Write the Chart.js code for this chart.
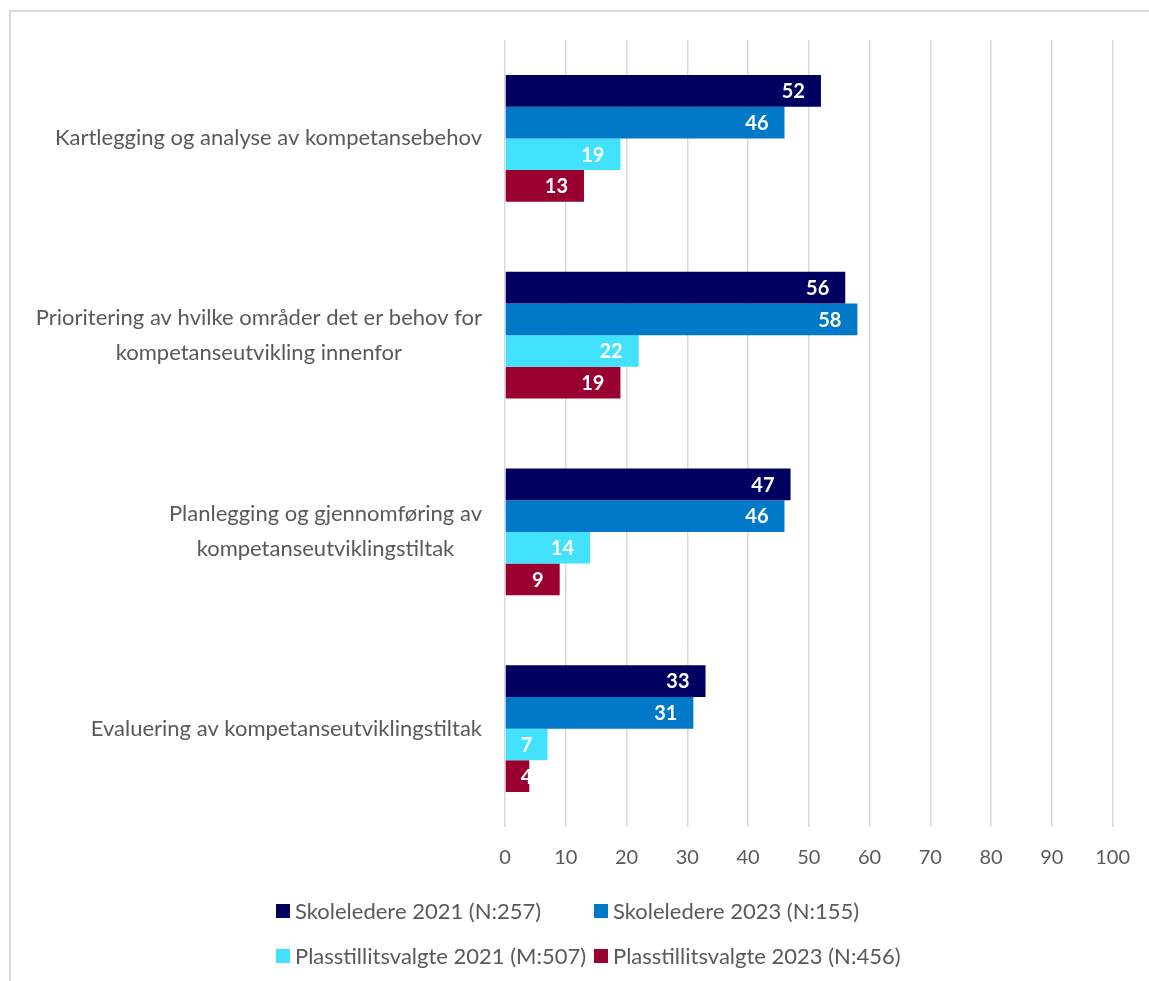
<!DOCTYPE html>
<html>
<head>
  <meta charset="UTF-8">
  <title>Kompetanseutvikling</title>
  <script src="https://cdn.jsdelivr.net/npm/chart.js"></script>
  <style>
    body {
      margin: 0;
      background: #ffffff;
      overflow: hidden;
    }
    .frame {
      position: absolute;
      left: 9px;
      top: 10px;
      width: 1200px;
      height: 1000px;
      border: 2px solid #d9d9d9;
    }
    #chart {
      position: absolute;
      left: 0;
      top: 0;
    }
  </style>
</head>
<body>
<div class="frame"></div>
<canvas id="chart" width="1149" height="981"></canvas>

<script>
  // kategorier (flere linjer der teksten brytes)
  const categories = [
    ['Kartlegging og analyse av kompetansebehov'],
    ['Prioritering av hvilke områder det er behov for', 'kompetanseutvikling innenfor'],
    ['Planlegging og gjennomføring av', 'kompetanseutviklingstiltak'],
    ['Evaluering av kompetanseutviklingstiltak']
  ];

  const seriesNames = [
    'Skoleledere 2021 (N:257)',
    'Skoleledere 2023 (N:155)',
    'Plasstillitsvalgte 2021 (M:507)',
    'Plasstillitsvalgte 2023 (N:456)'
  ];

  // prosentandeler per serie
  const skoleledere2021 = [52, 56, 47, 33];
  const skoleledere2023 = [46, 58, 46, 31];
  const tillitsvalgte2021 = [19, 22, 14, 7];
  const tillitsvalgte2023 = [13, 19, 9, 4];

  const xMin = 0;
  const xMax = 100;
  const xStep = 10;

  const colors = ['#000060', '#0079C9', '#42E2FF', '#990030'];
  const FONT = 'Lato';
  const GREY = '#595959';

  // kategoritekst: blokken høyrejustert, linjene sentrert i blokken
  const categoryLabels = {
    id: 'categoryLabels',
    afterDraw(chart) {
      const ctx = chart.ctx;
      const yScale = chart.scales.y;
      const right = chart.chartArea.left - 23;
      const lineHeight = 35;
      ctx.save();
      ctx.font = '22px ' + FONT;
      ctx.fillStyle = GREY;
      ctx.textAlign = 'center';
      ctx.textBaseline = 'middle';
      categories.forEach((lines, i) => {
        const yc = yScale.getPixelForValue(i);
        const w = Math.max(...lines.map(l => ctx.measureText(l).width));
        const cx = right - w / 2;
        const y0 = yc - (lines.length - 1) * lineHeight / 2;
        lines.forEach((l, j) => ctx.fillText(l, cx, y0 + j * lineHeight));
      });
      ctx.restore();
    }
  };

  // verdier inne i enden av hver stolpe
  const valueLabels = {
    id: 'valueLabels',
    afterDatasetsDraw(chart) {
      const ctx = chart.ctx;
      ctx.save();
      ctx.font = 'bold 20px ' + FONT;
      ctx.fillStyle = '#ffffff';
      ctx.textAlign = 'left';
      ctx.textBaseline = 'middle';
      chart.data.datasets.forEach((ds, di) => {
        chart.getDatasetMeta(di).data.forEach((bar, i) => {
          const txt = String(ds.data[i]);
          const w = ctx.measureText(txt).width;
          const left = Math.max(bar.x - 16 - w, bar.base + 15);
          ctx.fillText(txt, left, bar.y + 1);
        });
      });
      ctx.restore();
    }
  };

  // forklaring i to kolonner under diagrammet
  const gridLegend = {
    id: 'gridLegend',
    afterDraw(chart) {
      const ctx = chart.ctx;
      const colX = [276, 594];
      const rowY = [911, 956];
      ctx.save();
      ctx.font = '22px ' + FONT;
      ctx.textAlign = 'left';
      ctx.textBaseline = 'middle';
      chart.data.datasets.forEach((ds, i) => {
        const x = colX[i % 2];
        const y = rowY[Math.floor(i / 2)];
        ctx.fillStyle = ds.backgroundColor;
        ctx.fillRect(x, y - 7, 14, 14);
        ctx.fillStyle = GREY;
        ctx.fillText(ds.label, x + 19, y + 1);
      });
      ctx.restore();
    }
  };

  const allValues = [skoleledere2021, skoleledere2023, tillitsvalgte2021, tillitsvalgte2023];

  new Chart(document.getElementById('chart').getContext('2d'), {
    type: 'bar',
    data: {
      labels: categories,
      datasets: allValues.map((vals, i) => ({
        label: seriesNames[i],
        data: vals,
        backgroundColor: colors[i],
        borderWidth: 0,
        barPercentage: 1,
        categoryPercentage: 0.645
      }))
    },
    options: {
      indexAxis: 'y',
      responsive: false,
      animation: false,
      layout: {
        padding: { top: 40, right: 34, bottom: 94, left: 0 }
      },
      plugins: {
        legend: { display: false },
        tooltip: { enabled: false }
      },
      scales: {
        x: {
          min: xMin,
          max: xMax,
          border: { display: false },
          grid: { color: '#d9d9d9', lineWidth: 1.5, drawTicks: false },
          ticks: {
            stepSize: xStep,
            padding: 19,
            color: GREY,
            font: { family: FONT, size: 20 }
          },
          afterFit(scale) { scale.height = 60; }
        },
        y: {
          border: { display: false },
          grid: { display: false },
          ticks: { display: false },
          afterFit(scale) { scale.width = 505; }
        }
      }
    },
    plugins: [categoryLabels, valueLabels, gridLegend]
  });
</script>
</body>
</html>
